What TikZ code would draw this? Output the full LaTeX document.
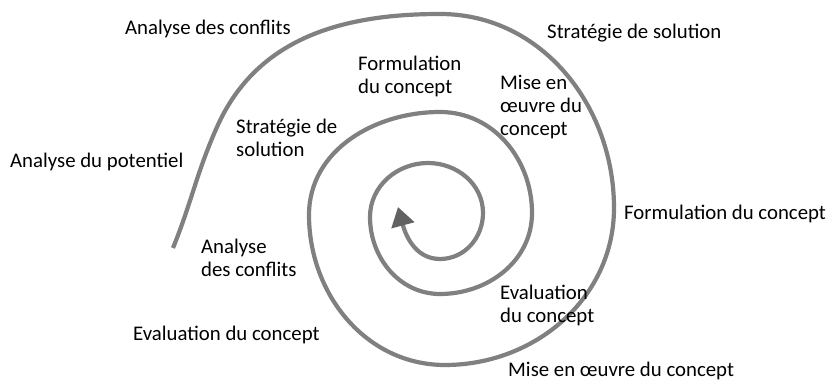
\documentclass[tikz,border=0pt]{standalone}
\usepackage{fontspec}
\setmainfont{Carlito}
\usetikzlibrary{arrows.meta}
\definecolor{spiralgray}{RGB}{128,128,128}
\definecolor{tipgray}{RGB}{98,98,98}

\begin{document}
\begin{tikzpicture}[x=1pt,y=1pt,
	lbl/.style={anchor=base west, inner sep=0pt, align=left, font=\fontsize{20.8}{23.3}\selectfont},
	spiral/.style={draw=spiralgray, line width=4.2pt}]
	\useasboundingbox (0,0) rectangle (834,382);
	% spiral, from the outer end inwards
	\draw[spiral, -{Triangle[length=19pt,width=23pt,color=tipgray]}]
		(173,134) to[out=68,in=246] (217,255) to[out=66,in=180] (440,368)
		to[out=0,in=90] (614,174) to[out=-90,in=0] (445,17)
		to[out=180,in=-90] (309,167) to[out=90,in=180] (440,270)
		to[out=0,in=90] (532,169) to[out=-90,in=0] (440,88)
		to[out=180,in=-90] (370,165) to[out=90,in=180] (428,219)
		to[out=0,in=90] (483,169) to[out=-90,in=0] (440,123)
		to[out=180,in=-75] (398,175);
	% outer labels
	\node[lbl] (konflikt1) at (125,347) {Analyse des conflits};
	\node[lbl] (strategie1) at (547,343) {Stratégie de solution};
	\node[lbl] (potentiel) at (10,214) {Analyse du potentiel};
	\node[lbl] (formul1) at (624,162) {Formulation du concept};
	\node[lbl] (eval1) at (133,41) {Evaluation du concept};
	\node[lbl] (mise1) at (508,5) {Mise en œuvre du concept};
	% inner labels (anchored at the last line)
	\node[lbl] (formul2) at (358,288) {Formulation\\du concept};
	\node[lbl] (mise2) at (500,246) {Mise en\\œuvre du\\concept};
	\node[lbl] (strategie2) at (236,225) {Stratégie de\\solution};
	\node[lbl] (konflikt2) at (201,105) {Analyse\\des conflits};
	\node[lbl] (eval2) at (500,59) {Evaluation\\du concept};
\end{tikzpicture}
\end{document}
